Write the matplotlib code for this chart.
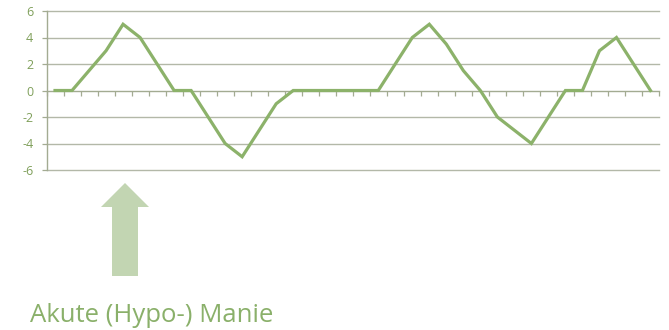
import matplotlib
matplotlib.use("Agg")
import matplotlib.pyplot as plt
from matplotlib.patches import FancyArrow

# Mood course over time (36 time steps)
steps = list(range(1, 37))
mood = [0, 0, 1.5, 3, 5, 4, 2, 0, 0, -2, -4, -5, -3, -1, 0, 0, 0, 0,
        0, 0, 2, 4, 5, 3.5, 1.5, 0, -2, -3, -4, -2, 0, 0, 3, 4, 2, 0]
y_ticks = [6, 4, 2, 0, -2, -4, -6]
caption = "Akute (Hypo-) Manie"

line_color = "#8cb26a"
label_color = "#7f9f5a"
grid_color = "#b3b8a8"
axis_color = "#a3ab92"

W, H = 669, 330
fig = plt.figure(figsize=(W / 100, H / 100), dpi=100)
ax = fig.add_axes([46.5 / W, 1 - 170 / H, (659 - 46.5) / W, (170 - 11) / H])

ax.plot(steps, mood, color=line_color, lw=2.3, solid_joinstyle="miter", zorder=3)

ax.set_xlim(0.5, 36.5)
ax.set_ylim(-6, 6)
ax.set_yticks(y_ticks)
ax.set_yticklabels([str(v) for v in y_ticks])
ax.set_xticks([k + 0.5 for k in range(0, 37)])
ax.set_xticklabels([])

for v in y_ticks:
    if v != 0:
        ax.axhline(v, color=grid_color, lw=1.0, zorder=1, clip_on=False)

for s in ["top", "right"]:
    ax.spines[s].set_visible(False)
ax.spines["bottom"].set_position(("data", 0))
ax.spines["bottom"].set_color(axis_color)
ax.spines["bottom"].set_linewidth(1.0)
ax.spines["left"].set_color(axis_color)
ax.spines["left"].set_linewidth(1.0)

ax.tick_params(axis="x", direction="out", length=3.5, width=0.9, color=axis_color)
ax.tick_params(axis="y", direction="out", length=3.5, width=0.9, color=axis_color,
               labelcolor=label_color, labelsize=9, pad=6)
for t in ax.get_yticklabels():
    t.set_fontfamily("Open Sans")

# Upward arrow below the first manic phase
arrow = FancyArrow(125 / W, 1 - 276 / H, 0, (276 - 183) / H,
                   width=26 / W, head_width=48 / W, head_length=24 / H,
                   length_includes_head=True, transform=fig.transFigure,
                   color="#c2d5b2", lw=0)
fig.add_artist(arrow)

fig.text(30 / W, 1 - 322 / H, caption, color="#8ab06a", fontsize=18.5,
         fontfamily="Open Sans", va="baseline", ha="left")

fig.savefig("out.png", dpi=100, facecolor="white")
